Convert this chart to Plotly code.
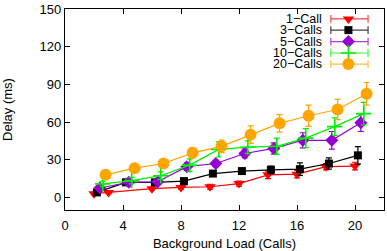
import plotly.graph_objects as go

# ---- data ----
series_names = ["1\u2212Call", "3\u2212Calls", "5\u2212Calls", "10\u2212Calls", "20\u2212Calls"]
x_1call = [2, 3, 6, 8, 10, 12, 14, 16, 18, 20]
y_1call = [3, 4, 7, 8, 8.5, 11, 18, 18.5, 24.5, 25]
e_1call = [1, 1, 1, 1.5, 2, 2, 3, 3, 2.5, 3]

x_3calls = [2.2, 4.2, 6.2, 8.2, 10.2, 12.2, 14.2, 16.2, 18.2, 20.2]
y_3calls = [4, 12, 12, 13, 19, 21, 22, 22.5, 27, 33.5]
e_3calls = [1, 1.5, 1.5, 1.5, 2, 2, 3, 5, 4.5, 7]

x_5calls = [2.4, 4.4, 6.4, 8.4, 10.4, 12.4, 14.4, 16.4, 18.4, 20.4]
y_5calls = [7.5, 12, 12.5, 24.5, 27, 35, 39, 45.5, 45.5, 59.5]
e_5calls = [2, 2, 2, 3, 2.5, 3.5, 4.5, 6, 7, 7]

x_10calls = [2.6, 4.6, 6.6, 8.6, 10.6, 12.6, 14.6, 16.6, 18.6, 20.6]
y_10calls = [10.8, 13.4, 17.3, 25.7, 38.2, 40, 40.7, 47.2, 56.4, 66.7]
e_10calls = [2, 2.5, 3, 5, 6, 5, 6.5, 7.5, 7, 9]

x_20calls = [2.8, 4.8, 6.8, 8.8, 10.8, 12.8, 14.8, 16.8, 18.8, 20.8]
y_20calls = [18, 23.3, 27, 35.5, 40.7, 50, 59, 65, 70, 82.5]
e_20calls = [2, 2, 2.5, 4, 5, 7, 7, 8.5, 8, 9]

x_ticks = [0, 4, 8, 12, 16, 20]
y_ticks = [0, 30, 60, 90, 120, 150]

# ---- style ----
colors = ["#ff0000", "#000000", "#9400d3", "#00ee00", "#ffa500"]
symbols = ["triangle-down", "square", "diamond", "cross-thin", "circle"]
sizes = [10, 8, 10, 11, 12]

xs = [x_1call, x_3calls, x_5calls, x_10calls, x_20calls]
ys = [y_1call, y_3calls, y_5calls, y_10calls, y_20calls]
es = [e_1call, e_3calls, e_5calls, e_10calls, e_20calls]

FONT = "Liberation Sans, Arial, Helvetica, sans-serif"

fig = go.Figure()

for name, x, y, e, c, s, sz in zip(series_names, xs, ys, es, colors, symbols, sizes):
    fig.add_trace(go.Scatter(
        x=x, y=y, mode="lines+markers", name=name, showlegend=False,
        line=dict(color=c, width=1.2),
        marker=dict(symbol=s, size=sz, color=c, line=dict(color=c, width=1.6 if s == "cross-thin" else 0)),
        error_y=dict(type="data", array=e, visible=True, color=c, thickness=1.2, width=3),
        cliponaxis=False,
    ))

# ---- gnuplot-style key (text right, sample on the right) drawn on a small inset axis ----
key_rows = [0.835, 0.65, 0.46, 0.27, 0.086]
key_x0, key_x1, key_xm, key_text = 0.51, 0.853, 0.672, 0.449
for name, c, s, sz, ky in zip(series_names, colors, symbols, sizes, key_rows):
    fig.add_trace(go.Scatter(
        x=[key_x0, key_x1], y=[ky, ky], xaxis="x2", yaxis="y2", mode="lines",
        line=dict(color=c, width=1.2), opacity=0.75, showlegend=False, hoverinfo="skip",
        error_y=dict(type="constant", value=0.065, color=c, thickness=1.2, width=0),
        cliponaxis=False,
    ))
    fig.add_trace(go.Scatter(
        x=[key_xm], y=[ky], xaxis="x2", yaxis="y2", mode="markers",
        marker=dict(symbol=s, size=sz, color=c, line=dict(color=c, width=1.6 if s == "cross-thin" else 0)),
        showlegend=False, hoverinfo="skip", cliponaxis=False,
    ))
    fig.add_annotation(x=key_text, y=ky, xref="x2", yref="y2", text=name, showarrow=False,
                       xanchor="right", yanchor="middle", font=dict(size=12.5, color="black", family=FONT))

axis_common = dict(showline=True, linecolor="black", linewidth=1.2, mirror="ticks",
                   ticks="inside", ticklen=5, tickcolor="black", tickwidth=1,
                   showgrid=False, zeroline=False, ticklabeloverflow="allow",
                   tickfont=dict(size=13, color="black", family=FONT))

fig.update_layout(
    width=387, height=251,
    margin=dict(l=65, r=2, t=5, b=41),
    paper_bgcolor="white", plot_bgcolor="rgba(0,0,0,0)",
    font=dict(family=FONT, size=13, color="black"),
    xaxis=dict(range=[0, 22], tickvals=x_ticks, domain=[0, 1], ticklabelstandoff=3,
               title=dict(text="Background Load (Calls)", font=dict(size=13), standoff=7),
               **axis_common),
    yaxis=dict(range=[-10, 150], tickvals=y_ticks, domain=[0, 1],
               title=dict(text="Delay (ms)", font=dict(size=13), standoff=24),
               **axis_common),
    xaxis2=dict(domain=[0.66, 1.0], range=[0, 1], anchor="y2", visible=False),
    yaxis2=dict(domain=[0.70, 1.0], range=[0, 1], anchor="x2", visible=False),
    showlegend=False,
)

fig.write_html("out.html", config={"displayModeBar": False, "staticPlot": True},
               post_script="document.body.style.margin='0';document.body.style.overflow='hidden';")
